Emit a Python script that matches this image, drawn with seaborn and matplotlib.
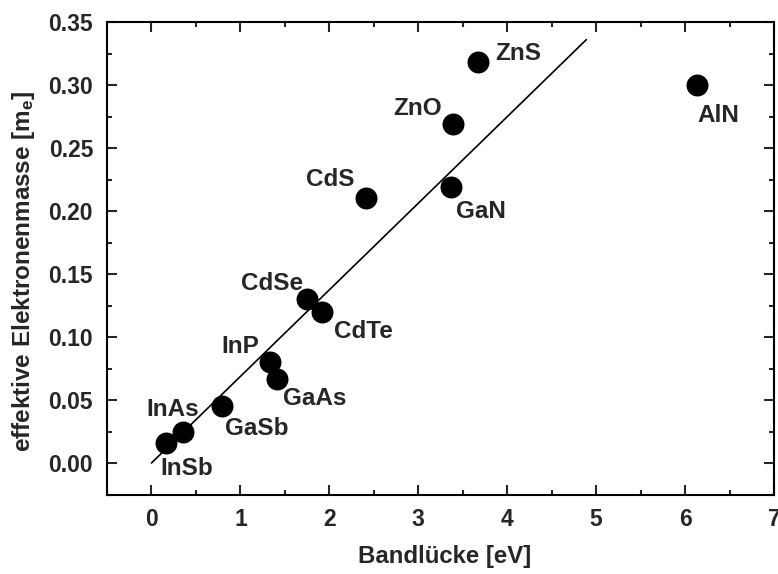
import matplotlib
matplotlib.use("Agg")
import matplotlib.pyplot as plt
import seaborn as sns
import pandas as pd
from matplotlib.ticker import MultipleLocator

materials = ["InSb", "InAs", "GaSb", "InP", "GaAs", "CdSe", "CdTe", "CdS", "GaN", "ZnO", "ZnS", "AlN"]
bandgap = [0.16, 0.35, 0.79, 1.33, 1.41, 1.75, 1.92, 2.41, 3.37, 3.39, 3.67, 6.13]
mass = [0.016, 0.025, 0.045, 0.080, 0.067, 0.130, 0.120, 0.210, 0.219, 0.269, 0.318, 0.300]

fit_x = [0.0, 4.89]
fit_y = [0.0, 0.336]

xtick_labels = ["0", "1", "2", "3", "4", "5", "6", "7"]
ytick_labels = ["0.00", "0.05", "0.10", "0.15", "0.20", "0.25", "0.30", "0.35"]

# label offsets in pixels (dx, dy) and horizontal alignment
label_style = {
    "InSb": (-5, -26, "left"),
    "InAs": (-10, 22, "center"),
    "GaSb": (3, -22, "left"),
    "InP": (-11, 16, "right"),
    "GaAs": (6, -20, "left"),
    "CdSe": (-4, 16, "right"),
    "CdTe": (12, -20, "left"),
    "CdS": (-11, 19, "right"),
    "GaN": (5, -24, "left"),
    "ZnO": (-11, 16, "right"),
    "ZnS": (17, 9, "left"),
    "AlN": (1, -30, "left"),
}

sns.set_style("ticks")
plt.rcParams["font.family"] = ["Liberation Sans", "DejaVu Sans"]
plt.rcParams["font.weight"] = "bold"
plt.rcParams["axes.labelweight"] = "bold"
plt.rcParams["mathtext.default"] = "regular"

df = pd.DataFrame({"Material": materials, "Eg": bandgap, "m": mass})
fit = pd.DataFrame({"x": fit_x, "y": fit_y})

fig = plt.figure(figsize=(7.78, 5.74), dpi=100)
ax = fig.add_axes([107 / 778, 1 - 494.5 / 574, (774 - 107) / 778, (494.5 - 22) / 574])

sns.lineplot(data=fit, x="x", y="y", ax=ax, color="black", linewidth=1.2, zorder=2)
sns.scatterplot(data=df, x="Eg", y="m", ax=ax, color="black", s=250, edgecolor="black",
                linewidth=0, zorder=3, legend=False)

for name, xv, yv in zip(materials, bandgap, mass):
    dx, dy, ha = label_style[name]
    ax.annotate(name, (xv, yv), xytext=(dx * 0.72, dy * 0.72), textcoords="offset points",
                ha=ha, va="center", fontsize=17.5, fontweight="bold")

ax.set_xlim(-0.5, 7)
ax.set_ylim(-0.025, 0.35)
ax.set_xticks(range(len(xtick_labels)))
ax.set_xticklabels(xtick_labels)
ax.set_yticks([0.05 * i for i in range(len(ytick_labels))])
ax.set_yticklabels(ytick_labels)
ax.xaxis.set_minor_locator(MultipleLocator(0.5))
ax.yaxis.set_minor_locator(MultipleLocator(0.025))

ax.tick_params(which="both", direction="in", top=True, right=True, width=1.5,
               labelsize=16.5)
ax.tick_params(axis="x", which="major", pad=9.5)
ax.tick_params(axis="y", which="major", pad=10)
ax.tick_params(which="major", length=7)
ax.tick_params(which="minor", length=3.5)
ax.tick_params(axis="x", which="both", labeltop=False)
ax.tick_params(axis="y", which="both", labelright=False)
for lab in ax.get_xticklabels() + ax.get_yticklabels():
    lab.set_fontweight("bold")
for sp in ax.spines.values():
    sp.set_visible(True)
    sp.set_linewidth(1.5)
    sp.set_color("black")

ax.set_xlabel("Bandlücke [eV]", fontsize=17.3, fontweight="bold")
ax.set_ylabel(r"effektive Elektronenmasse [m$_{e}$]", fontsize=17.5, fontweight="bold")
ax.xaxis.set_label_coords((444.5 - 107) / 667, (494.5 - 545.5) / 472.5)
ax.yaxis.set_label_coords((37.5 - 107) / 667, (494.5 - 271) / 472.5)

fig.savefig("out.png", dpi=100)
